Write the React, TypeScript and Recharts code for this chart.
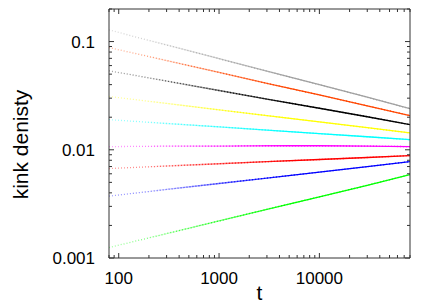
import { Line, LineChart, XAxis, YAxis } from 'recharts';

// time steps (log axis) and kink density
const tValues = [80, 300, 1000, 3000, 10000, 30000, 80000];
const grey = [0.128, 0.0931, 0.0695, 0.0532, 0.04, 0.0306, 0.024];
const orange = [0.088, 0.0668, 0.0519, 0.0411, 0.0321, 0.0255, 0.0207];
const black = [0.0537, 0.0432, 0.0353, 0.0294, 0.0242, 0.0202, 0.0171];
const yellow = [0.0311, 0.0268, 0.0234, 0.0207, 0.0181, 0.016, 0.0143];
const cyan = [0.019, 0.0175, 0.0163, 0.0152, 0.0141, 0.0132, 0.0124];
const magenta = [0.0107, 0.0108, 0.0108, 0.0109, 0.0109, 0.0108, 0.0107];
const red = [0.00671, 0.00708, 0.00743, 0.00777, 0.00813, 0.00849, 0.00885];
const blue = [0.00373, 0.0043, 0.00488, 0.00548, 0.00622, 0.00698, 0.00778];
const green = [0.00125, 0.00168, 0.0022, 0.00282, 0.00367, 0.0047, 0.0059];

const xTicks = [80, 90, 100, 200, 300, 400, 500, 600, 700, 800, 900, 1000, 2000, 3000, 4000, 5000, 6000, 7000, 8000, 9000, 10000, 20000, 30000, 40000, 50000, 60000, 70000, 80000];
const yTicks = [0.001, 0.002, 0.003, 0.004, 0.005, 0.006, 0.007, 0.008, 0.009, 0.01, 0.02, 0.03, 0.04, 0.05, 0.06, 0.07, 0.08, 0.09, 0.1, 0.2];

const series = [
  { key: 'grey', values: grey, color: '#a0a0a0' },
  { key: 'orange', values: orange, color: '#ff4500' },
  { key: 'black', values: black, color: '#000000' },
  { key: 'yellow', values: yellow, color: '#ffff00' },
  { key: 'cyan', values: cyan, color: '#00ffff' },
  { key: 'magenta', values: magenta, color: '#ff00ff' },
  { key: 'red', values: red, color: '#ff0000' },
  { key: 'blue', values: blue, color: '#0000ff' },
  { key: 'green', values: green, color: '#00ff00' },
];

const data = tValues.map((t, i) => {
  const row: Record<string, number> = { t };
  series.forEach((s) => (row[s.key] = s.values[i]));
  return row;
});

const FONT = '"Liberation Sans", Arial, sans-serif';
const AXIS = '#333';

function isMajor(v: number) {
  const l = Math.log10(v);
  return Math.abs(l - Math.round(l)) < 1e-9;
}

function fmt(v: number) {
  return v >= 1 ? String(Math.round(v)) : String(Number(v.toPrecision(1)));
}

// gnuplot-style ticks: drawn inward, labels only on decades
function makeTick(side: 'bottom' | 'top' | 'left' | 'right') {
  return (props: any) => {
    const { x, y, payload } = props;
    const major = isMajor(payload.value);
    const len = major ? 5 : 3;
    let line;
    let label = null;
    if (side === 'bottom') {
      line = <line x1={x} y1={y} x2={x} y2={y - len} stroke={AXIS} />;
      if (major)
        label = (
          <text x={x} y={y + 26} textAnchor="middle" fontSize={17} fontFamily={FONT} fill="#000">
            {fmt(payload.value)}
          </text>
        );
    } else if (side === 'top') {
      line = <line x1={x} y1={y} x2={x} y2={y + len} stroke={AXIS} />;
    } else if (side === 'left') {
      line = <line x1={x} y1={y} x2={x + len} y2={y} stroke={AXIS} />;
      if (major)
        label = (
          <text x={x - 14} y={y + 6} textAnchor="end" fontSize={17} fontFamily={FONT} fill="#000">
            {fmt(payload.value)}
          </text>
        );
    } else {
      line = <line x1={x} y1={y} x2={x - len} y2={y} stroke={AXIS} />;
    }
    return (
      <g>
        {line}
        {label}
      </g>
    );
  };
}

export default function App() {
  return (
    <div style={{ position: 'fixed', left: 0, top: 0, width: 436, height: 305, background: '#fff' }}>
      <LineChart width={436} height={305} data={data} margin={{ top: 8, right: 25, bottom: 0, left: 0 }}>
        <defs>
          {series.map((s) => (
            <linearGradient key={s.key + 'd'} id={`dot-${s.key}`} x1="0" y1="0" x2="1" y2="0">
              <stop offset="0" stopColor={s.color} stopOpacity={0.35} />
              <stop offset="0.3" stopColor={s.color} stopOpacity={0.75} />
              <stop offset="0.55" stopColor={s.color} stopOpacity={1} />
            </linearGradient>
          ))}
          {series.map((s) => (
            <linearGradient key={s.key + 's'} id={`solid-${s.key}`} x1="0" y1="0" x2="1" y2="0">
              <stop offset="0.12" stopColor={s.color} stopOpacity={0} />
              <stop offset="0.4" stopColor={s.color} stopOpacity={0.6} />
              <stop offset="0.6" stopColor={s.color} stopOpacity={1} />
            </linearGradient>
          ))}
        </defs>
        <XAxis
          dataKey="t"
          type="number"
          scale="log"
          domain={[80, 80000]}
          allowDataOverflow
          ticks={xTicks}
          interval={0}
          height={47}
          tickSize={0}
          tickMargin={0}
          tickLine={false}
          axisLine={{ stroke: AXIS }}
          tick={makeTick('bottom')}
          label={(p: any) => {
            const vb = p.viewBox;
            return (
              <text x={vb.x + vb.width / 2} y={vb.y + 42} textAnchor="middle" fontSize={21} fontFamily={FONT} fill="#000">
                t
              </text>
            );
          }}
        />
        <XAxis
          xAxisId="top"
          dataKey="t"
          orientation="top"
          type="number"
          scale="log"
          domain={[80, 80000]}
          allowDataOverflow
          ticks={xTicks}
          interval={0}
          height={1}
          tickSize={0}
          tickMargin={0}
          tickLine={false}
          axisLine={{ stroke: AXIS }}
          tick={makeTick('top')}
        />
        <YAxis
          type="number"
          scale="log"
          domain={[0.001, 0.2]}
          allowDataOverflow
          ticks={yTicks}
          interval={0}
          width={109}
          tickSize={0}
          tickMargin={0}
          tickLine={false}
          axisLine={{ stroke: AXIS }}
          tick={makeTick('left')}
          label={(p: any) => {
            const vb = p.viewBox;
            const cx = 20;
            const cy = vb.y + vb.height / 2 + 11;
            return (
              <text
                x={cx}
                y={cy}
                transform={`rotate(-90 ${cx} ${cy})`}
                textAnchor="middle"
                dominantBaseline="central"
                fontSize={21}
                fontFamily={FONT}
                fill="#000"
              >
                kink denisty
              </text>
            );
          }}
        />
        <YAxis
          yAxisId="right"
          orientation="right"
          type="number"
          scale="log"
          domain={[0.001, 0.2]}
          allowDataOverflow
          ticks={yTicks}
          interval={0}
          width={1}
          tickSize={0}
          tickMargin={0}
          tickLine={false}
          axisLine={{ stroke: AXIS }}
          tick={makeTick('right')}
        />
        {series.map((s) => (
          <Line
            key={s.key + '-dot'}
            type="linear"
            dataKey={s.key}
            stroke={`url(#dot-${s.key})`}
            strokeWidth={1.3}
            strokeDasharray="1 2"
            dot={false}
            activeDot={false}
            isAnimationActive={false}
          />
        ))}
        {series.map((s) => (
          <Line
            key={s.key + '-solid'}
            type="linear"
            dataKey={s.key}
            stroke={`url(#solid-${s.key})`}
            strokeWidth={1.3}
            dot={false}
            activeDot={false}
            isAnimationActive={false}
          />
        ))}
      </LineChart>
    </div>
  );
}
